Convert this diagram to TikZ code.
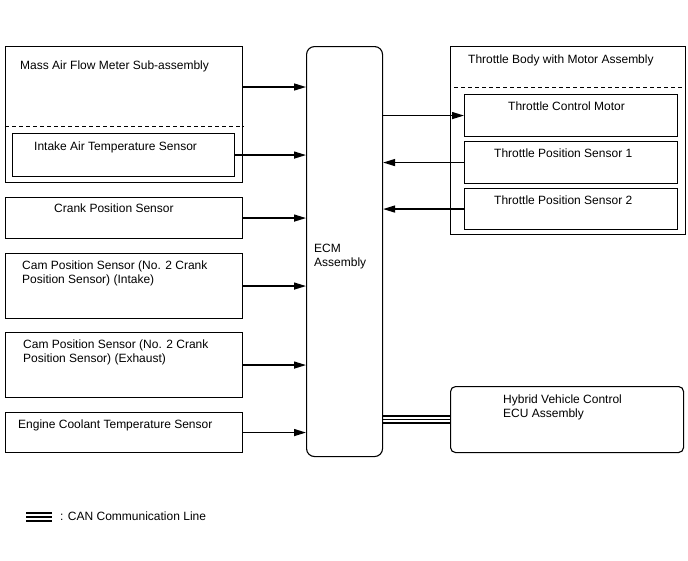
\documentclass[tikz,border=0pt]{standalone}
\usepackage{fontspec}
\setmainfont{Liberation Sans}
\usetikzlibrary{arrows.meta}

\begin{document}
\begin{tikzpicture}[x=1pt,y=-1pt,>={Triangle[length=12pt,width=7pt]},
    every node/.style={font=\fontsize{12}{14}\selectfont},
    box/.style={draw,line width=1.1pt,anchor=north west,inner sep=0pt},
    txt/.style={anchor=north west,inner sep=0pt,align=left},
    sig/.style={->,line width=1.4pt},
    can/.style={line width=1.2pt},
    sep/.style={line width=0.9pt,dash pattern=on 4pt off 3pt}]
  \useasboundingbox (0,0) rectangle (688,560);
  % left column: sensors
  \node[box,minimum width=237pt,minimum height=136pt] (maf) at (5,46) {};
  \node[box,minimum width=222pt,minimum height=43pt] (iat) at (12,133) {};
  \node[box,minimum width=237pt,minimum height=41pt] (crank) at (5,197) {};
  \node[box,minimum width=237pt,minimum height=65pt] (camin) at (5,253) {};
  \node[box,minimum width=237pt,minimum height=65pt] (camex) at (5,332) {};
  \node[box,minimum width=237pt,minimum height=40pt] (ect) at (5,412) {};
  \node[txt] (maft) at (20,61) {Mass Air Flow Meter Sub-assembly};
  \node[txt] (iatt) at (34,142) {Intake Air Temperature Sensor};
  \node[txt] (crankt) at (54,204) {Crank Position Sensor};
  \node[txt] (camint) at (22,261) {Cam Position Sensor (No. 2 Crank\\Position Sensor) (Intake)};
  \node[txt] (camext) at (23,340) {Cam Position Sensor (No. 2 Crank\\Position Sensor) (Exhaust)};
  \node[txt] (ectt) at (18,420) {Engine Coolant Temperature Sensor};
  \draw[sep] ([yshift=-80pt]maf.north west) -- ([yshift=-80pt]maf.north east);
  % ECM
  \node[box,rounded corners=8pt,minimum width=76pt,minimum height=410pt] (ecm) at (306,46) {};
  \node[txt] (ecmt) at (314,244) {ECM\\Assembly};
  % right column: actuators
  \node[box,minimum width=235pt,minimum height=188pt] (tb) at (450,46) {};
  \node[box,minimum width=213pt,minimum height=42pt] (tcm) at (464,94) {};
  \node[box,minimum width=213pt,minimum height=42pt] (tps1) at (464,141) {};
  \node[box,minimum width=213pt,minimum height=41pt] (tps2) at (464,188) {};
  \node[box,rounded corners=5pt,minimum width=233pt,minimum height=66pt] (hv) at (450,386) {};
  \node[txt] (tbt) at (468,55) {Throttle Body with Motor Assembly};
  \node[txt] (tcmt) at (508,102) {Throttle Control Motor};
  \node[txt] (tps1t) at (494,149) {Throttle Position Sensor 1};
  \node[txt] (tps2t) at (494,196) {Throttle Position Sensor 2};
  \node[txt] (hvt) at (503,395) {Hybrid Vehicle Control\\ECU Assembly};
  \draw[sep] ([xshift=4pt,yshift=-41pt]tb.north west) -- ([yshift=-41pt]tb.north east);
  % signal lines
  \draw[sig] ([yshift=-41pt]maf.north east) -- ([yshift=-41pt]maf.north east -| ecm.west);
  \draw[sig] (iat.east) -- (iat.east -| ecm.west);
  \draw[sig] (crank.east) -- (crank.east -| ecm.west);
  \draw[sig] (camin.east) -- (camin.east -| ecm.west);
  \draw[sig] (camex.east) -- (camex.east -| ecm.west);
  \draw[sig] (ect.east) -- (ect.east -| ecm.west);
  \draw[sig] (tcm.west -| ecm.east) -- (tcm.west);
  \draw[sig] (tps1.west) -- (tps1.west -| ecm.east);
  \draw[sig] (tps2.west) -- (tps2.west -| ecm.east);
  \foreach \s in {-3.5,0,3.5}
    \draw[can] ([yshift=\s pt]hv.west -| ecm.east) -- ([yshift=\s pt]hv.west);
  % legend
  \coordinate (lega) at (26,517);
  \coordinate (legb) at (52,517);
  \foreach \s in {-4,0,4}
    \draw[line width=1.6pt] ([yshift=\s pt]lega) -- ([yshift=\s pt]legb);
  \node[txt] (legt) at (60,512) {: CAN Communication Line};
\end{tikzpicture}
\end{document}
